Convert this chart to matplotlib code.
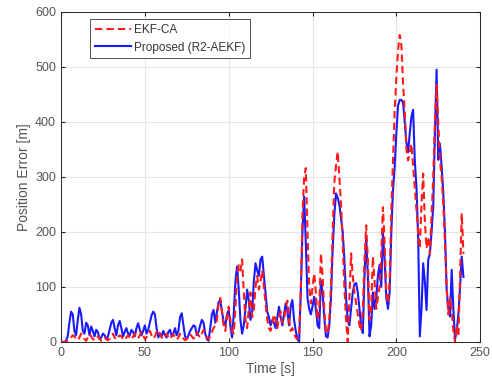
import matplotlib
matplotlib.use("Agg")
import matplotlib.pyplot as plt
import numpy as np

plt.rcParams['font.family'] = ['Liberation Sans', 'DejaVu Sans']

time_s = list(range(0, 241))

proposed = [
    0, 0, 0, 2, 10, 35, 55, 50, 20, 12,
    40, 62, 50, 20, 15, 35, 30, 12, 28, 20,
    10, 22, 18, 5, 8, 15, 12, 5, 10, 22,
    35, 40, 25, 12, 30, 38, 25, 10, 18, 25,
    15, 12, 22, 18, 10, 25, 34, 22, 12, 20,
    30, 15, 22, 35, 48, 55, 50, 25, 8, 15,
    10, 20, 12, 8, 18, 22, 10, 15, 25, 12,
    20, 45, 52, 30, 10, 5, 12, 20, 25, 30,
    28, 12, 18, 30, 40, 35, 15, 5, 2, 25,
    50, 58, 35, 55, 72, 76, 55, 35, 30, 50,
    58, 30, 8, 50, 110, 137, 95, 40, 15, 30,
    60, 95, 75, 40, 55, 110, 143, 130, 120, 150,
    155, 120, 89, 55, 45, 30, 40, 35, 25, 45,
    64, 45, 30, 50, 70, 55, 30, 65, 76, 40,
    20, 5, 0, 90, 200, 264, 180, 80, 60, 50,
    65, 82, 60, 30, 25, 112, 90, 45, 10, 8,
    30, 80, 167, 230, 270, 262, 250, 225, 200, 150,
    80, 40, 30, 60, 90, 105, 107, 90, 60, 30,
    16, 120, 190, 120, 10, 30, 90, 60, 80, 120,
    140, 100, 198, 150, 80, 60, 90, 200, 276, 319,
    380, 430, 440, 440, 435, 400, 362, 345, 380, 410,
    422, 330, 280, 190, 10, 60, 143, 110, 58, 149,
    161, 200, 246, 380, 495, 331, 360, 319, 270, 200,
    94, 60, 46, 131, 60, 5, 20, 50, 100, 155,
    118,
]

ekf_ca = [
    0, 0, 0, 0, 2, 5, 8, 12, 10, 5,
    3, 8, 15, 10, 5, 2, 8, 14, 10, 5,
    3, 5, 10, 6, 2, 4, 8, 5, 3, 6,
    12, 15, 8, 4, 8, 12, 10, 5, 3, 8,
    12, 8, 4, 10, 15, 10, 6, 12, 18, 12,
    5, 8, 15, 20, 12, 6, 10, 18, 22, 15,
    8, 5, 10, 15, 8, 5, 10, 14, 8, 4,
    8, 15, 12, 6, 3, 5, 10, 14, 10, 6,
    10, 18, 12, 8, 15, 22, 15, 8, 5, 10,
    18, 25, 30, 40, 70, 80, 55, 30, 20, 45,
    64, 40, 20, 15, 60, 120, 140, 130, 150, 90,
    40, 25, 60, 90, 45, 60, 100, 120, 95, 110,
    130, 100, 70, 40, 25, 20, 35, 50, 40, 25,
    45, 55, 35, 40, 60, 75, 40, 20, 25, 15,
    8, 5, 10, 95, 230, 300, 316, 200, 100, 70,
    100, 124, 90, 40, 60, 161, 120, 60, 20, 15,
    40, 100, 200, 290, 320, 346, 300, 250, 180, 100,
    40, 0, 80, 161, 120, 90, 70, 50, 30, 20,
    60, 150, 212, 150, 40, 60, 155, 110, 60, 80,
    100, 160, 245, 180, 90, 70, 110, 240, 330, 420,
    480, 530, 558, 540, 470, 420, 350, 330, 345, 360,
    320, 280, 240, 200, 170, 250, 306, 220, 170, 190,
    160, 230, 300, 400, 467, 400, 330, 300, 250, 180,
    100, 50, 80, 60, 20, 0, 30, 10, 120, 234,
    160,
]

x_ticks = [0, 50, 100, 150, 200, 250]
y_ticks = [0, 100, 200, 300, 400, 500, 600]

fig = plt.figure(figsize=(4.92, 3.85), dpi=100)
ax = fig.add_axes([0.124, 0.112, 0.852, 0.857])

ax.plot(time_s, ekf_ca, color="#ff1a1a", linestyle=(0, (3.5, 2)), linewidth=1.5, label="EKF-CA", zorder=3)
ax.plot(time_s, proposed, color="#1a1aff", linestyle="-", linewidth=1.5, label="Proposed (R2-AEKF)", zorder=2)

ax.set_xlim(0, 250)
ax.set_ylim(0, 600)
ax.set_xticks(x_ticks)
ax.set_yticks(y_ticks)
ax.grid(True, color="#e6e6e6", linewidth=0.8)
ax.set_axisbelow(True)
ax.tick_params(direction="in", length=3, labelsize=9, colors="#262626", labelcolor="#555555", top=True, right=True)
for s in ax.spines.values():
    s.set_color("#262626")
    s.set_linewidth(0.7)

ax.set_xlabel("Time [s]", fontsize=10, color="#555555", labelpad=2)
ax.set_ylabel("Position Error [m]", fontsize=10, color="#555555", labelpad=3)

leg = ax.legend(loc="upper left", bbox_to_anchor=(0.055, 0.995), fontsize=8.5, frameon=True,
                fancybox=False, edgecolor="#262626", handlelength=3.1, borderpad=0.4,
                labelspacing=0.45, handletextpad=0.25)
leg.get_frame().set_linewidth(0.7)
for t in leg.get_texts():
    t.set_color("#333333")

fig.savefig("out.png", dpi=100)
